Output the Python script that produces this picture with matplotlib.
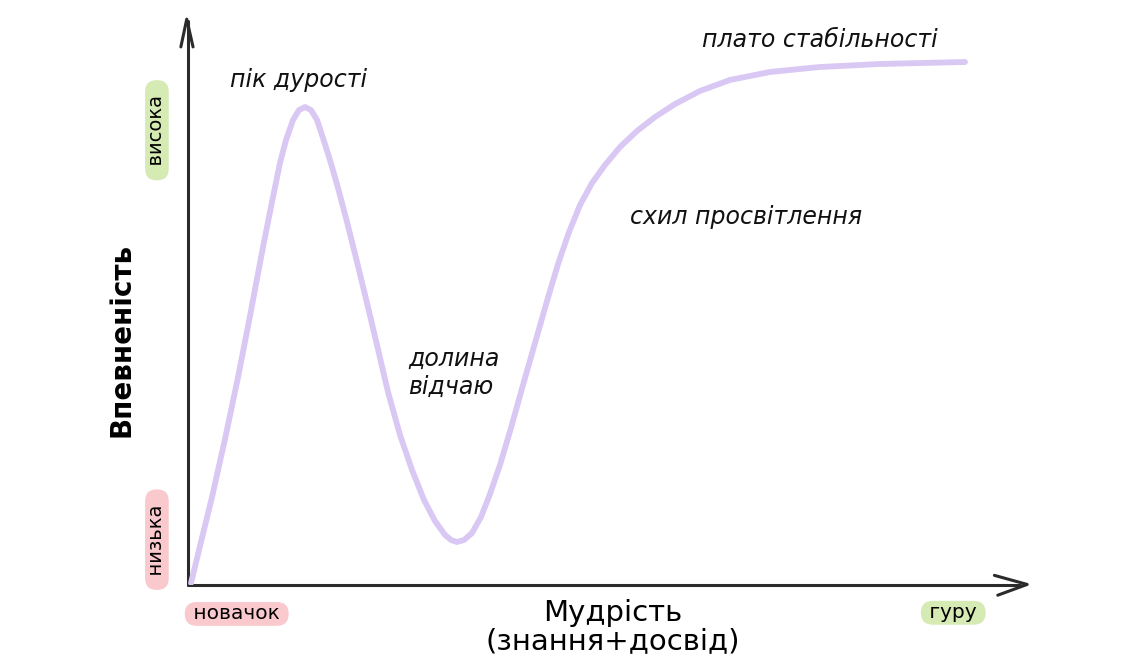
import matplotlib.pyplot as plt

# wisdom (x) vs confidence (y), both on a 0..100 scale
wisdom = [0.36, 1.43, 2.86, 4.40, 5.95, 7.38, 8.93, 10.00, 10.95, 11.67, 12.50, 13.21,
          13.93, 14.64, 15.36, 16.07, 16.90, 17.86, 18.93, 20.12, 21.31, 22.50, 23.81,
          25.24, 26.67, 28.10, 29.40, 30.60, 31.31, 32.02, 32.86, 33.81, 34.88, 35.95,
          37.14, 38.45, 39.88, 41.31, 42.74, 44.05, 45.36, 46.67, 48.10, 49.64, 51.43,
          53.45, 55.60, 57.98, 60.95, 64.52, 69.29, 75.24, 82.38, 92.50]
confidence = [0.35, 6.88, 15.52, 25.70, 36.60, 47.44, 59.61, 67.55, 74.43, 78.48, 82.01,
              83.77, 84.30, 83.77, 82.01, 78.84, 74.96, 70.02, 64.02, 56.97, 49.74, 42.33,
              34.04, 26.46, 20.28, 14.99, 11.29, 8.82, 7.94, 7.58, 7.94, 9.17, 11.99,
              16.05, 21.16, 27.69, 35.27, 42.68, 50.09, 56.61, 62.26, 67.02, 70.90, 74.07,
              77.25, 80.07, 82.54, 84.83, 87.13, 89.07, 90.48, 91.36, 91.89, 92.24]

stage_labels = ["пік дурості", "долина\nвідчаю", "схил просвітлення", "плато стабільності"]
stage_pos = [(5.0, 89.1), (26.2, 37.4), (52.6, 64.9), (61.2, 96.1)]

x_title = "Мудрість\n(знання+досвід)"
y_title = "Впевненість"
x_ends = ["новачок", "гуру"]
y_ends = ["низька", "висока"]

pink = "#f9c9cd"
green = "#d6eab4"
lilac = "#d9c8f4"
ink = "#2b2b2b"

fig = plt.figure(figsize=(11.46, 6.70), dpi=100)
ax = fig.add_axes([188 / 1146, 85 / 670, 840 / 1146, 567 / 670])
ax.set_xlim(0, 100)
ax.set_ylim(0, 100)
ax.axis("off")

ax.plot(wisdom, confidence, color=lilac, lw=4.2, solid_capstyle="round",
        solid_joinstyle="round", zorder=3)

# axes with open chevron arrow heads
ax.plot([0, 0], [0, 99.5], color=ink, lw=2.2, clip_on=False, solid_capstyle="round")
ax.plot([-0.85, -0.15, 0.6], [94.9, 99.8, 94.9], color=ink, lw=2.2, clip_on=False,
        solid_capstyle="round", solid_joinstyle="round")
ax.plot([0, 99.0], [0, 0], color=ink, lw=2.2, clip_on=False, solid_capstyle="round")
ax.plot([96.0, 99.9, 96.4], [1.7, 0.1, -1.8], color=ink, lw=2.2, clip_on=False,
        solid_capstyle="round", solid_joinstyle="round")

hand = dict(family=["DejaVu Sans"], style="italic", fontsize=17, color="#111111",
            weight="light")
for label, (x, y) in zip(stage_labels, stage_pos):
    ax.text(x, y, label, ha="left", va="center", linespacing=1.2, **hand)

sans = ["DejaVu Sans"]
ax.text(50.6, -7.4, x_title, ha="center", va="center", fontsize=21, family=sans,
        linespacing=1.0, clip_on=False)
ax.text(-7.9, 43.2, y_title, ha="center", va="center", rotation=90, fontsize=20,
        family=sans, weight="bold", clip_on=False)

pill = lambda c: dict(boxstyle="round,pad=0.12,rounding_size=0.6", fc=c, ec="none")
ax.text(5.8, -5.1, " " + x_ends[0] + " ", ha="center", va="center", fontsize=14.5,
        family=sans, bbox=pill(pink), clip_on=False)
ax.text(91.1, -4.9, " " + x_ends[1] + " ", ha="center", va="center", fontsize=14.5,
        family=sans, bbox=pill(green), clip_on=False)
ax.text(-3.7, 8.0, "  " + y_ends[0] + "  ", ha="center", va="center", rotation=90,
        fontsize=14, family=sans, bbox=pill(pink), clip_on=False)
ax.text(-3.7, 80.2, "  " + y_ends[1] + "  ", ha="center", va="center", rotation=90,
        fontsize=14, family=sans, bbox=pill(green), clip_on=False)

fig.savefig("out.png", dpi=100, facecolor="white")
